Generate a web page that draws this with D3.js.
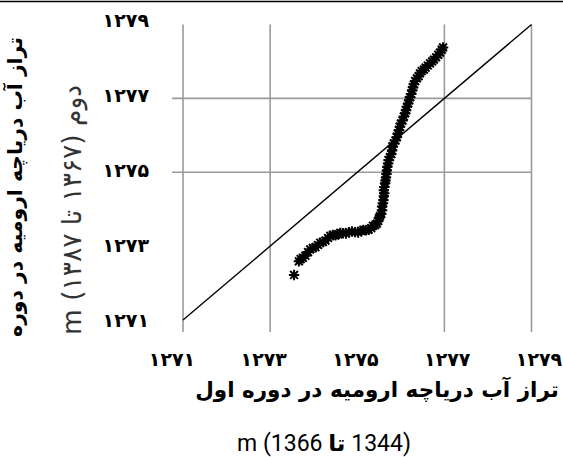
<!DOCTYPE html>
<html>
<head>
<meta charset="utf-8">
<script src="https://cdn.jsdelivr.net/npm/d3@7"></script>
<style>
  body { margin: 0; background: #fff; }
  svg { display: block; }
</style>
</head>
<body>
<script>
// tick values and their Persian labels
const ticks = [1271, 1273, 1275, 1277, 1279];
const tickLabels = ["۱۲۷۱", "۱۲۷۳", "۱۲۷۵", "۱۲۷۷", "۱۲۷۹"];
const xGridValues = [1271, 1273, 1277, 1279];
const yGridValues = [1275, 1277];

// quantiles: period 1 (1344-1366) vs period 2 (1367-1387)
const period1 = [1273.55, 1273.66, 1273.70, 1273.75, 1273.81, 1273.87, 1273.92, 1273.98, 1274.04, 1274.10,
  1274.15, 1274.21, 1274.27, 1274.33, 1274.38, 1274.44, 1274.50, 1274.56, 1274.61, 1274.67,
  1274.74, 1274.81, 1274.88, 1274.95, 1275.02, 1275.09, 1275.14, 1275.20, 1275.26, 1275.32,
  1275.36, 1275.41, 1275.45, 1275.48, 1275.50, 1275.52, 1275.55, 1275.57, 1275.57, 1275.59,
  1275.60, 1275.61, 1275.62, 1275.61, 1275.62, 1275.64, 1275.65, 1275.66, 1275.67, 1275.68,
  1275.69, 1275.71, 1275.72, 1275.75, 1275.78, 1275.80, 1275.81, 1275.84, 1275.88, 1275.91,
  1275.93, 1275.96, 1275.98, 1276.00, 1276.04, 1276.07, 1276.10, 1276.12, 1276.14, 1276.17,
  1276.19, 1276.21, 1276.24, 1276.26, 1276.28, 1276.30, 1276.33, 1276.37, 1276.41, 1276.44,
  1276.48, 1276.53, 1276.57, 1276.62, 1276.67, 1276.72, 1276.76, 1276.81, 1276.86, 1276.90,
  1276.94, 1276.97];
const period2 = [1272.22, 1272.59, 1272.65, 1272.68, 1272.74, 1272.84, 1272.91, 1272.95, 1272.97, 1273.03,
  1273.09, 1273.11, 1273.15, 1273.22, 1273.28, 1273.30, 1273.29, 1273.32, 1273.36, 1273.35,
  1273.34, 1273.38, 1273.40, 1273.38, 1273.37, 1273.41, 1273.44, 1273.43, 1273.44, 1273.49,
  1273.55, 1273.57, 1273.61, 1273.68, 1273.76, 1273.81, 1273.87, 1273.97, 1274.07, 1274.16,
  1274.24, 1274.35, 1274.43, 1274.51, 1274.60, 1274.70, 1274.78, 1274.86, 1274.95, 1275.05,
  1275.15, 1275.24, 1275.33, 1275.41, 1275.49, 1275.59, 1275.70, 1275.78, 1275.86, 1275.95,
  1276.05, 1276.14, 1276.23, 1276.32, 1276.40, 1276.51, 1276.60, 1276.68, 1276.77, 1276.86,
  1276.95, 1277.03, 1277.12, 1277.22, 1277.30, 1277.38, 1277.47, 1277.54, 1277.60, 1277.68,
  1277.74, 1277.78, 1277.83, 1277.89, 1277.95, 1278.00, 1278.05, 1278.11, 1278.18, 1278.24,
  1278.32, 1278.38];

const xTitle = "تراز آب دریاچه ارومیه در دوره اول";
const yTitle = "تراز آب دریاچه ارومیه در دوره";
const yTitle2 = "دوم (۱۳۶۷ تا ۱۳۸۷) m";

const width = 563, height = 457;
const svg = d3.select("body").append("svg")
    .attr("width", width)
    .attr("height", height);

const x = d3.scaleLinear().domain([1271, 1279]).range([183, 531.5]);
const y = d3.scaleLinear().domain([1271, 1279]).range([320, 24.5]);
// labels sit a bit off the gridlines in the original
const xLab = d3.scaleLinear().domain([1271, 1279]).range([172, 539]);
const yLab = d3.scaleLinear().domain([1271, 1279]).range([320, 20]);

// top rule
svg.append("line")
    .attr("x1", 0).attr("x2", width)
    .attr("y1", 1.5).attr("y2", 1.5)
    .attr("stroke", "#000").attr("stroke-width", 1.5);

// grid
svg.append("g").selectAll("line")
    .data(xGridValues).enter().append("line")
    .attr("x1", d => x(d)).attr("x2", d => x(d))
    .attr("y1", y(1279)).attr("y2", y(1271) + 12)
    .attr("stroke", "#9a9a9a").attr("stroke-width", 1.6);

svg.append("g").selectAll("line")
    .data(yGridValues).enter().append("line")
    .attr("x1", x(1271) - 11).attr("x2", x(1279))
    .attr("y1", d => y(d)).attr("y2", d => y(d))
    .attr("stroke", "#9a9a9a").attr("stroke-width", 1.6);

// 1:1 line
svg.append("path")
    .datum([[1271, 1271], [1279, 1279]])
    .attr("d", d3.line().x(d => x(d[0])).y(d => y(d[1])))
    .attr("fill", "none")
    .attr("stroke", "#000")
    .attr("stroke-width", 1.4);

// star markers
const r = 5.2;
const star = `M0,${-r}V${r}M${-r},0H${r}M${-r * 0.75},${-r * 0.75}L${r * 0.75},${r * 0.75}M${-r * 0.75},${r * 0.75}L${r * 0.75},${-r * 0.75}`;
svg.append("g").selectAll("path")
    .data(period1.map((v, i) => [v, period2[i]]))
    .enter().append("path")
    .attr("transform", d => "translate(" + x(d[0]) + "," + y(d[1]) + ")")
    .attr("d", star)
    .attr("stroke", "#000")
    .attr("stroke-width", 2);

// tick labels
svg.append("g").selectAll("text")
    .data(ticks).enter().append("text")
    .attr("x", d => xLab(d)).attr("y", 359)
    .attr("dy", "0.35em")
    .attr("text-anchor", "middle")
    .attr("font-family", "DejaVu Sans")
    .attr("font-weight", "bold")
    .attr("font-size", 19)
    .text((d, i) => tickLabels[i]);

svg.append("g").selectAll("text")
    .data(ticks).enter().append("text")
    .attr("x", 149).attr("y", d => yLab(d))
    .attr("dy", "0.35em")
    .attr("text-anchor", "end")
    .attr("font-family", "DejaVu Sans")
    .attr("font-weight", "bold")
    .attr("font-size", 19)
    .text((d, i) => tickLabels[i]);

function fit(sel, target) {
    var w = sel.node().getComputedTextLength();
    var fs = parseFloat(sel.attr("font-size"));
    sel.attr("font-size", fs * target / w);
}

// x title
var xt = svg.append("text")
    .attr("x", 377).attr("y", 389).attr("dy", "0.35em")
    .attr("text-anchor", "middle")
    .attr("direction", "rtl")
    .attr("font-family", "DejaVu Sans")
    .attr("font-weight", "bold")
    .attr("font-size", 18)
    .text(xTitle);
fit(xt, 364);

var xt2 = svg.append("text")
    .attr("x", 324).attr("y", 443).attr("dy", "0.35em")
    .attr("text-anchor", "middle")
    .attr("direction", "rtl")
    .attr("font-family", "Roboto")
    .attr("font-size", 23);
xt2.append("tspan").text("(1344 ");
xt2.append("tspan").attr("font-weight", "bold").attr("font-family", "DejaVu Sans").text("تا");
xt2.append("tspan").text(" 1366) m");

// y titles
var yt = svg.append("text")
    .attr("transform", "translate(15,187) rotate(-90)")
    .attr("dy", "0.35em")
    .attr("text-anchor", "middle")
    .attr("direction", "rtl")
    .attr("font-family", "DejaVu Sans")
    .attr("font-weight", "bold")
    .attr("font-size", 15)
    .text(yTitle);
fit(yt, 300);

var yt2 = svg.append("text")
    .attr("transform", "translate(72,210) rotate(-90)")
    .attr("dy", "0.35em")
    .attr("text-anchor", "middle")
    .attr("direction", "rtl")
    .attr("font-family", "DejaVu Sans")
    .attr("font-size", 15)
    .attr("fill", "#333")
    .text(yTitle2);
fit(yt2, 250);
</script>
</body>
</html>
